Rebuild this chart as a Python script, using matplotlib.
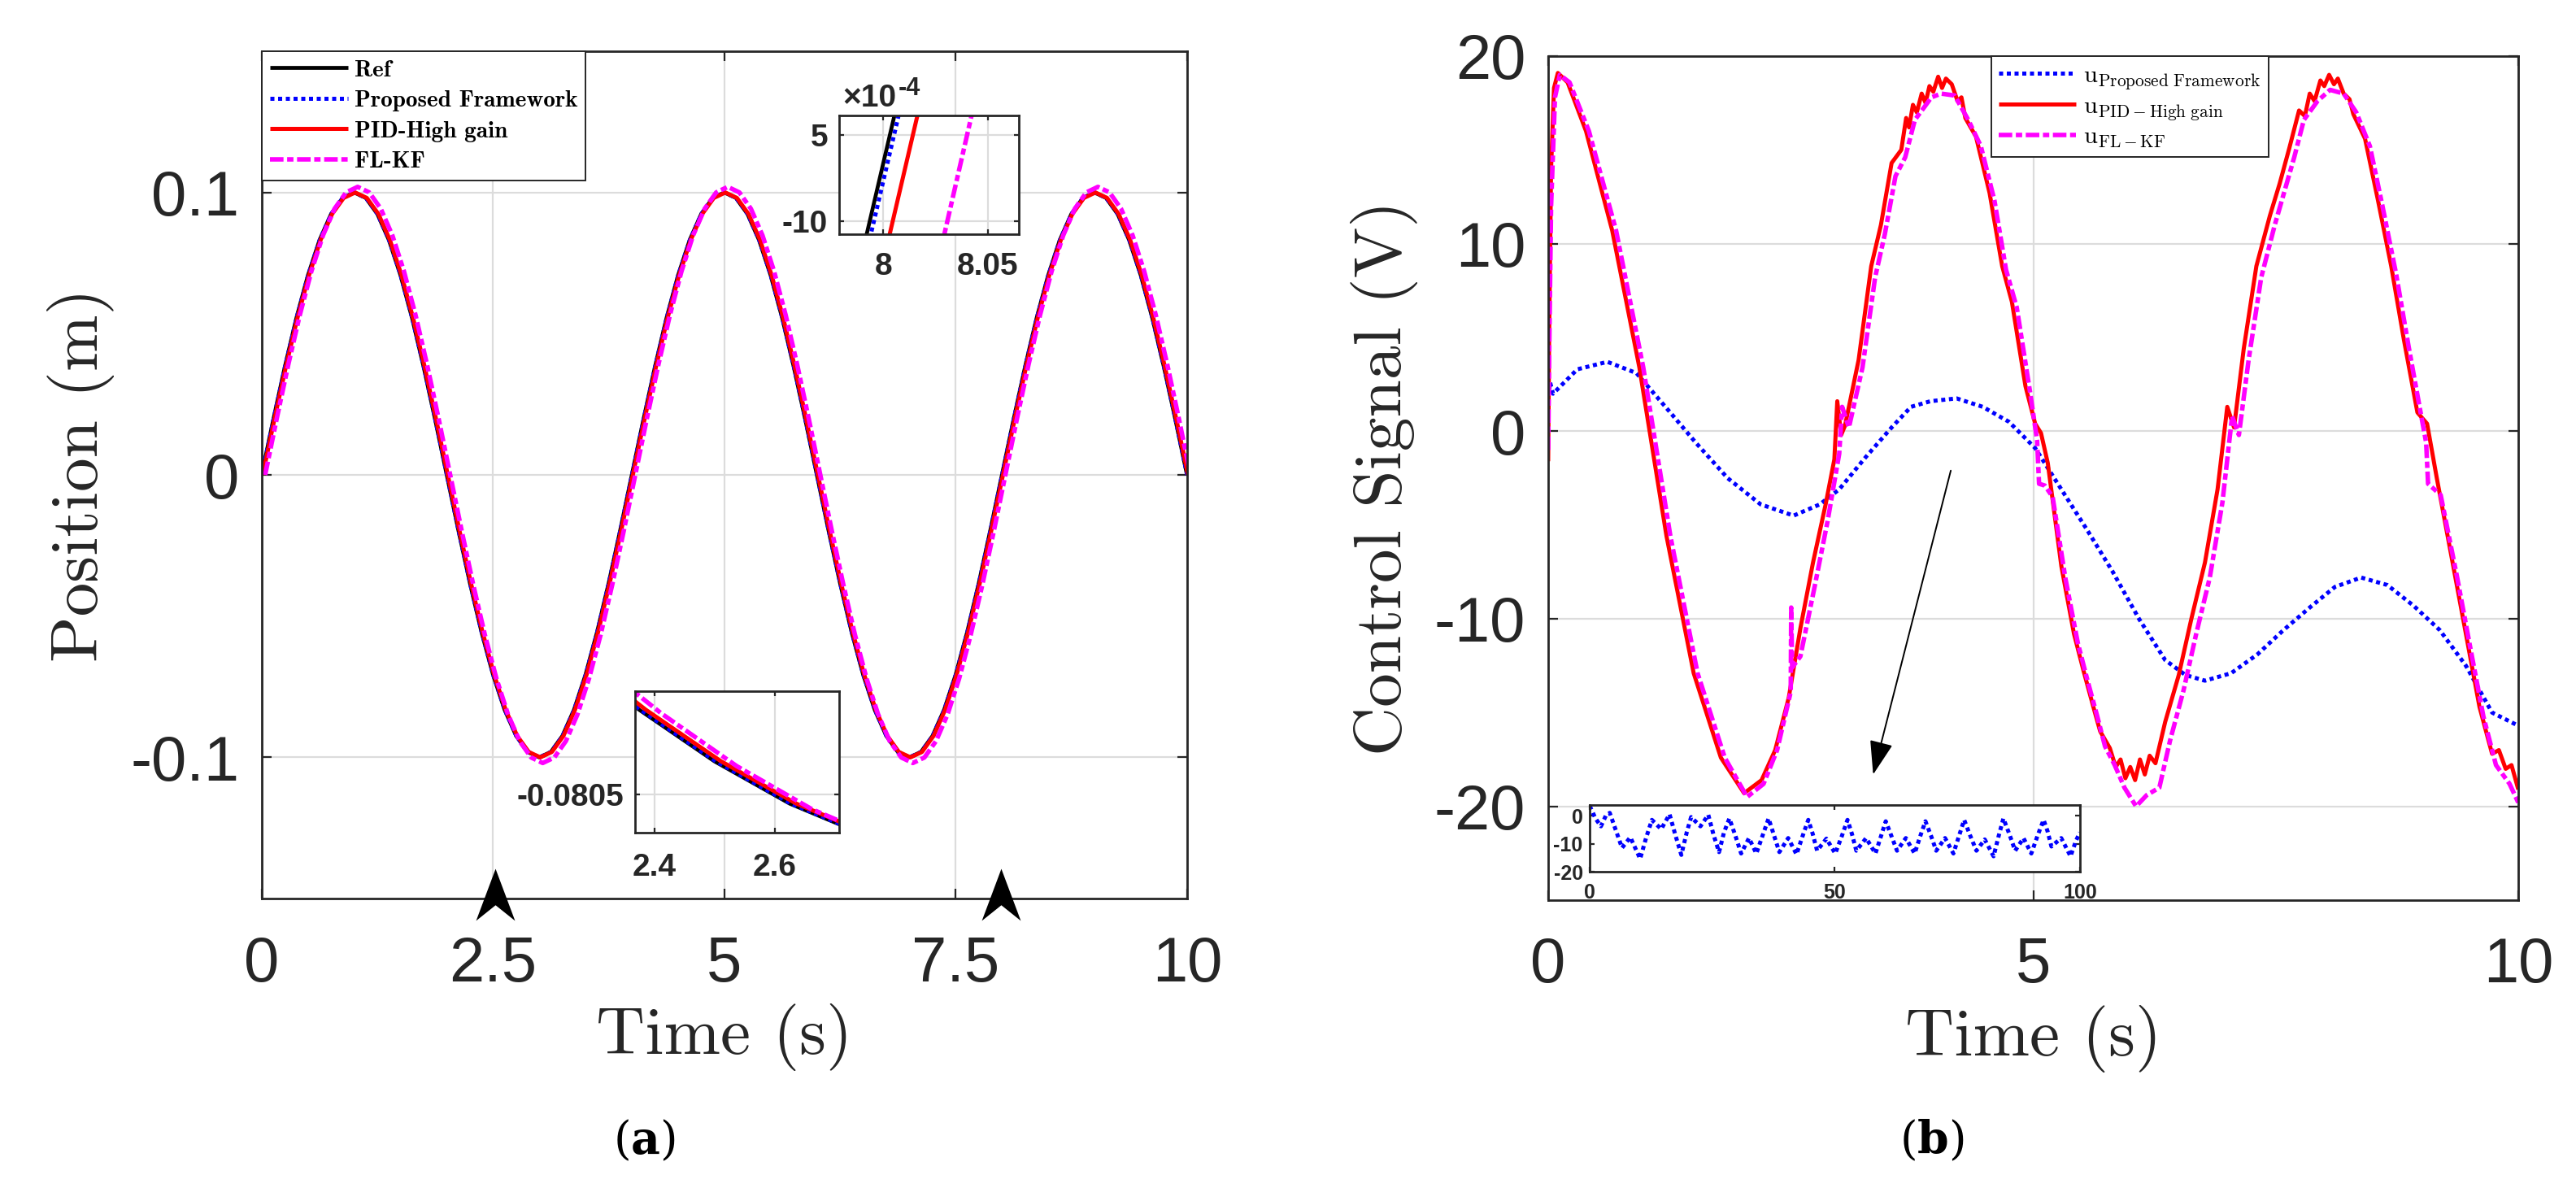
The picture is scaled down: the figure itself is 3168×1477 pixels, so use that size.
import numpy as np
import matplotlib
matplotlib.use("Agg")
import matplotlib.pyplot as plt
from matplotlib.path import Path
from matplotlib.font_manager import FontProperties

# ---- (a) position tracking -------------------------------------------------
# reference samples every 0.125 s
pos_t = np.linspace(0, 10, 81)
pos_ref = [
    0.0, 0.01951, 0.03827, 0.05556, 0.07071, 0.08315, 0.09239, 0.09808,
    0.1, 0.09808, 0.09239, 0.08315, 0.07071, 0.05556, 0.03827, 0.01951,
    0.0, -0.01951, -0.03827, -0.05556, -0.07071, -0.08315, -0.09239, -0.09808,
    -0.1, -0.09808, -0.09239, -0.08315, -0.07071, -0.05556, -0.03827, -0.01951,
    0.0, 0.01951, 0.03827, 0.05556, 0.07071, 0.08315, 0.09239, 0.09808,
    0.1, 0.09808, 0.09239, 0.08315, 0.07071, 0.05556, 0.03827, 0.01951,
    0.0, -0.01951, -0.03827, -0.05556, -0.07071, -0.08315, -0.09239, -0.09808,
    -0.1, -0.09808, -0.09239, -0.08315, -0.07071, -0.05556, -0.03827, -0.01951,
    0.0, 0.01951, 0.03827, 0.05556, 0.07071, 0.08315, 0.09239, 0.09808,
    0.1, 0.09808, 0.09239, 0.08315, 0.07071, 0.05556, 0.03827, 0.01951,
    0.0,
]
# tracking lag (s) and amplitude ratio of each controller, read from the zooms
pos_names = ["Proposed Framework", "PID-High gain", "FL-KF"]
pos_lag = [0.002, 0.011, 0.037]
pos_gain = [1.0, 1.0, 1.02]
zoom_marks = [2.52, 7.99]

# ---- (b) control signals ---------------------------------------------------
u_prop_t = [0, 0.02, 0.05, 0.3, 0.61, 0.91, 1.25, 1.52, 1.85, 2.19, 2.53, 2.8,
            3.0, 3.27, 3.54, 3.74, 3.94, 4.21, 4.48, 4.75, 5.02, 5.29, 5.56,
            5.82, 6.09, 6.36, 6.57, 6.77, 7.04, 7.31, 7.58, 7.85, 8.11, 8.38,
            8.65, 8.92, 9.19, 9.46, 9.73, 10.0]
u_prop = [1.8, 2.6, 2.0, 3.3, 3.7, 3.1, 1.05, -0.6, -2.5, -3.9, -4.5, -3.9,
          -3.1, -1.4, 0.2, 1.3, 1.6, 1.75, 1.3, 0.5, -0.9, -3.1, -5.3,
          -7.5, -10.0, -12.2, -13.0, -13.3, -12.9, -11.9, -10.6, -9.4, -8.3, -7.8,
          -8.2, -9.3, -10.6, -12.5, -15.0, -15.7]

u_pid_t = [0, 0.01, 0.03, 0.06, 0.1, 0.2, 0.39, 0.66, 0.94, 1.22, 1.5, 1.78,
           2.02, 2.2, 2.34, 2.48, 2.6, 2.73, 2.86, 2.95, 2.98, 3.02, 3.06, 3.2,
           3.33, 3.43, 3.54, 3.64, 3.69, 3.72, 3.76, 3.8, 3.85, 3.89, 3.93,
           3.97, 4.02, 4.06, 4.1, 4.16, 4.22, 4.26, 4.3, 4.41, 4.55,
           4.68, 4.78, 4.92, 5.02, 5.08, 5.15, 5.29, 5.42, 5.52, 5.62, 5.69,
           5.79, 5.85, 5.9, 5.95, 6.0, 6.05, 6.1, 6.15, 6.2, 6.26, 6.36, 6.5,
           6.63, 6.77, 6.9, 7.0, 7.07, 7.17, 7.3, 7.44, 7.54, 7.64, 7.74, 7.8,
           7.85, 7.9, 7.96, 8.0, 8.05, 8.1, 8.14, 8.2, 8.26, 8.3, 8.42,
           8.55, 8.69, 8.82, 8.96, 9.06, 9.16, 9.33, 9.46, 9.6, 9.73, 9.8,
           9.87, 9.93, 10.0]
u_pid = [-1.6, 5.0, 14.0, 18.3, 19.1, 18.6, 16.0, 10.7, 3.4, -5.6, -12.9, -17.4,
         -19.3, -18.6, -17.0, -14.2, -10.5, -7.0, -3.9, -1.5, 1.6, -0.2, 0.3, 3.8,
         8.8, 11.0, 14.3, 15.0, 16.7, 16.2, 17.4, 17.0, 18.0, 17.5, 18.4,
         18.1, 18.9, 18.3, 18.8, 18.5, 17.6, 17.8, 16.7, 15.7, 12.7,
         8.8, 6.9, 2.4, 0.4, -0.1, -1.7, -7.2, -10.8, -12.8, -14.7, -16.0,
         -16.9, -17.9, -17.5, -18.5, -17.9, -18.6, -17.5, -18.3, -17.3, -17.7, -15.5, -13.0,
         -10.0, -7.0, -3.1, 1.3, 0.2, 4.4, 8.8, 11.5, 13.2, 15.1, 17.1, 16.8,
         18.0, 17.6, 18.7, 18.4, 19.0, 18.5, 18.8, 18.0, 17.7, 16.9, 15.6,
         12.4, 8.8, 4.9, 1.0, 0.4, -2.5, -7.2, -10.8, -14.7, -17.2, -17.0,
         -18.0, -17.8, -19.1]

u_flkf_t = [0, 0.01, 0.03, 0.07, 0.12, 0.22, 0.42, 0.7, 0.98, 1.26, 1.54, 1.82,
            2.05, 2.22, 2.36, 2.5, 2.505, 2.515, 2.6, 2.75, 2.88, 3.0, 3.03, 3.1,
            3.24, 3.37, 3.47, 3.58, 3.68, 3.78, 3.88, 3.95, 4.05, 4.19, 4.33,
            4.46, 4.6, 4.72, 4.83, 4.97, 5.04, 5.06, 5.12, 5.2, 5.33, 5.46, 5.56,
            5.66, 5.74, 5.84, 5.94, 6.06, 6.17, 6.3, 6.41, 6.55, 6.68, 6.82,
            6.95, 7.05, 7.12, 7.22, 7.35, 7.49, 7.59, 7.69, 7.79, 7.93, 8.06,
            8.2, 8.33, 8.47, 8.6, 8.74, 8.87, 9.0, 9.05, 9.07, 9.2, 9.37, 9.5,
            9.64, 9.77, 9.91, 10.0]
u_flkf = [-1.0, 4.0, 12.0, 17.8, 19.0, 18.6, 16.0, 10.7, 3.4, -5.6, -12.9, -17.4,
          -19.5, -18.8, -17.0, -13.9, -9.4, -12.6, -12.0, -8.2, -4.8, -1.2, 1.3, 0.2,
          3.4, 8.2, 10.5, 13.6, 14.6, 16.6, 17.3, 17.8, 18.0, 17.9, 16.6,
          15.2, 12.3, 8.6, 6.6, 2.0, -0.5, -2.8, -2.9, -3.5, -7.8, -11.3, -13.3,
          -15.2, -16.8, -17.8, -19.0, -20.0, -19.4, -19.0, -16.5, -13.8, -10.8, -7.8,
          -3.8, 0.8, -0.2, 3.8, 8.2, 11.0, 12.8, 14.6, 16.6, 17.6, 18.2,
          18.0, 17.0, 15.2, 12.0, 8.4, 4.5, 0.8, -0.6, -2.8, -3.4, -7.8, -11.4,
          -15.2, -17.8, -18.8, -19.8]

# inset of (b): proposed control signal over 0..100
ins_x = [0, 1.2, 2.3, 3.3, 4.1, 5.3, 6.6, 8.3, 10.3, 11.5, 12.7,
         14.6, 16.3, 17.5, 18.7, 19.8, 20.7, 22.6, 24.2, 25.3, 26.4, 27.4,
         28.5, 29.7, 30.9, 32.5, 34.0, 35.3,
         36.5, 37.6, 38.7, 40.5, 42.2, 43.4,
         44.6, 45.5, 46.4, 48.3, 50.1, 51.4,
         52.6, 53.5, 54.4, 56.4, 58.3, 59.4,
         60.4, 61.5, 62.7, 64.5, 66.3, 67.4,
         68.5, 69.6, 70.7, 72.5, 74.2, 75.3,
         76.4, 77.6, 78.9, 80.6, 82.4, 83.4,
         84.4, 85.6, 86.8, 88.5, 90.1, 91.4,
         92.6, 93.4, 94.2, 96.2, 98.1, 99.2, 100]
ins_y = [3.5, -1.0, -3.8, 0.0, 1.0, -5.0, -11.5, -7.7, -15.4, -8.0, -1.5,
         -4.8, 0.5, -7.0, -14.0, -6.0, -0.5, -3.8, 0.3, -7.0, -13.0, -6.0,
         -1.0, -7.0, -13.5, -8.0, -13.5, -7.0,
         -1.0, -7.0, -13.0, -8.0, -13.8, -7.5,
         -1.5, -6.5, -12.5, -8.2, -13.5, -7.5,
         -1.5, -6.5, -12.5, -8.0, -13.5, -7.5,
         -2.0, -7.0, -12.5, -8.0, -13.5, -7.5,
         -2.0, -7.0, -12.5, -8.0, -13.5, -7.5,
         -1.5, -7.0, -12.5, -8.5, -14.5, -7.5,
         -1.0, -6.5, -12.5, -8.0, -13.5, -7.0,
         -1.5, -5.5, -11.0, -8.0, -14.5, -9.0, -6.0]

# ---- style -----------------------------------------------------------------
plt.rcParams.update({
    "font.family": ["Liberation Sans", "DejaVu Sans"],
    "axes.unicode_minus": False,
    "lines.solid_capstyle": "butt",
})
DARK = "#262626"
GRID = "#dcdcdc"
DOT = (1, 0.9)
DASHDOT = (3.0, 0.8, 1.4, 0.8)
styles = [
    dict(color="k", lw=1.7),
    dict(color="#0000ff", lw=1.8, dashes=DOT),
    dict(color="#ff0000", lw=1.8),
    dict(color="#ff00ff", lw=2.0, dashes=DASHDOT),
]


def style_axes(ax, size, padx, pady, tick_len, bold=False):
    ax.grid(True, color=GRID, lw=0.8)
    ax.set_axisbelow(True)
    ax.tick_params(direction="in", top=True, right=True, length=tick_len,
                   width=0.8, color=DARK, labelcolor=DARK, labelsize=size)
    ax.tick_params(axis="x", pad=padx)
    ax.tick_params(axis="y", pad=pady)
    for s in ax.spines.values():
        s.set_color(DARK)
        s.set_linewidth(1.0)
    if bold:
        for lab in ax.get_xticklabels() + ax.get_yticklabels():
            lab.set_fontweight("bold")


def draw_pos(ax, with_labels=False):
    ax.plot(pos_t, pos_ref, label="Ref" if with_labels else None, **styles[0])
    for i in range(3):
        ax.plot(pos_t + pos_lag[i], np.array(pos_ref) * pos_gain[i],
                label=pos_names[i] if with_labels else None, **styles[i + 1])


fig = plt.figure(figsize=(15.84, 7.385), dpi=200)

# ---- panel (a) -------------------------------------------------------------
ax1 = fig.add_axes([0.1016, 0.2518, 0.3592, 0.7055])
draw_pos(ax1, with_labels=True)
ax1.set_xlim(0, 10)
ax1.set_ylim(-0.15, 0.15)
ax1.set_xticks([0, 2.5, 5, 7.5, 10], ["0", "2.5", "5", "7.5", "10"])
ax1.set_yticks([-0.1, 0, 0.1], ["-0.1", "0", "0.1"])
style_axes(ax1, 28, 16, 10, 4.3)
lab_font = FontProperties(family="cmr10", size=30)
ax1.set_xlabel("Time (s)", fontproperties=lab_font, labelpad=4, color=DARK)
ax1.set_ylabel("Position (m)", fontproperties=lab_font, labelpad=7, color=DARK)
leg1 = ax1.legend(loc="upper left", bbox_to_anchor=(0, 1), borderaxespad=0,
                  prop=FontProperties(family="cmb10", size=10.5),
                  handlelength=3.3, handletextpad=0.25, labelspacing=0.38,
                  borderpad=0.35, fancybox=False, framealpha=1)
leg1.get_frame().set_edgecolor(DARK)
leg1.get_frame().set_linewidth(0.7)

# notched arrowheads marking the zoomed spots
head = Path([(0, 1), (0.75, -1), (0, -0.4), (-0.75, -1), (0, 1)],
            [Path.MOVETO, Path.LINETO, Path.LINETO, Path.LINETO, Path.CLOSEPOLY])
ax1.plot(zoom_marks, [0.005] * len(zoom_marks), transform=ax1.get_xaxis_transform(),
         ls="none", marker=head, ms=23, color="k", mew=0, clip_on=False, zorder=5)

# zoom near t = 8
z1 = fig.add_axes([0.3258, 0.8050, 0.0698, 0.0988])
draw_pos(z1)
z1.set_xlim(7.979, 8.065)
z1.set_ylim(-12.3e-4, 8.4e-4)
z1.set_xticks([8, 8.05], ["8", "8.05"])
z1.set_yticks([-10e-4, 5e-4], ["-10", "5"])
style_axes(z1, 14, 8, 5, 2.2, bold=True)
z1.text(0.018, 1.075, "\u00d710", transform=z1.transAxes, fontsize=14,
        fontweight="bold", color=DARK, va="baseline")
z1.text(0.33, 1.17, "-4", transform=z1.transAxes, fontsize=11,
        fontweight="bold", color=DARK, va="baseline")

# zoom near t = 2.5
z2 = fig.add_axes([0.2465, 0.3067, 0.0792, 0.1178])
draw_pos(z2)
z2.set_xlim(2.368, 2.707)
z2.set_ylim(-0.0917, -0.0501)
z2.set_xticks([2.4, 2.6], ["2.4", "2.6"])
z2.set_yticks([-0.0805], ["-0.0805"])
style_axes(z2, 14, 9, 5, 2.2, bold=True)

# ---- panel (b) -------------------------------------------------------------
ax2 = fig.add_axes([0.6010, 0.2505, 0.3766, 0.7028])
ax2.plot(u_prop_t, u_prop, label=r"$\mathrm{u}_{\mathrm{Proposed\ Framework}}$", **styles[1])
ax2.plot(u_pid_t, u_pid, label=r"$\mathrm{u}_{\mathrm{PID-High\ gain}}$", **styles[2])
ax2.plot(u_flkf_t, u_flkf, label=r"$\mathrm{u}_{\mathrm{FL-KF}}$", **styles[3])
ax2.set_xlim(0, 10)
ax2.set_ylim(-25, 20)
ax2.set_xticks([0, 5, 10], ["0", "5", "10"])
ax2.set_yticks([-20, -10, 0, 10, 20], ["-20", "-10", "0", "10", "20"])
style_axes(ax2, 28, 16, 10, 4.3)
ax2.set_xlabel("Time (s)", fontproperties=lab_font, labelpad=4, color=DARK)
ax2.set_ylabel("Control Signal (V)", fontproperties=lab_font, labelpad=7, color=DARK)
leg2 = ax2.legend(loc="upper left", bbox_to_anchor=(0.457, 1), borderaxespad=0,
                  prop=FontProperties(size=11, math_fontfamily="cm"),
                  handlelength=3.1, handletextpad=0.3, labelspacing=0.12,
                  borderpad=0.3, fancybox=False, framealpha=1)
leg2.get_frame().set_edgecolor(DARK)
leg2.get_frame().set_linewidth(0.7)
ax2.annotate("", xy=(3.35, -18.3), xytext=(4.15, -2.1),
             arrowprops=dict(arrowstyle="-|>,head_length=1.3,head_width=0.45",
                             color="k", lw=0.7, shrinkA=0, shrinkB=0))

z3 = fig.add_axes([0.6171, 0.2742, 0.1903, 0.0555])
z3.plot(ins_x, ins_y, **styles[1])
z3.set_xlim(0, 100)
z3.set_ylim(-20, 3.8)
z3.set_xticks([0, 50, 100], ["0", "50", "100"])
z3.set_yticks([-20, -10, 0], ["-20", "-10", "0"])
style_axes(z3, 9, 5, 3, 2.0, bold=True)
z3.grid(False)

# sub-figure captions
for x, letter in [(0.25, "a"), (0.75, "b")]:
    fig.text(x, 0.05, r"$(\mathbf{%s})$" % letter, ha="center", va="center",
             fontsize=20, math_fontfamily="dejavuserif", color="k")

fig.savefig("out.png", dpi=200)
